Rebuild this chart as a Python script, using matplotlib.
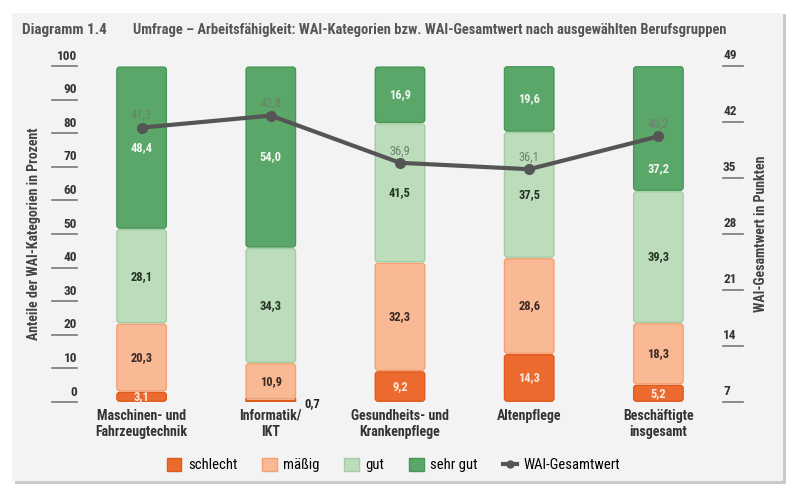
import matplotlib
matplotlib.use("Agg")
import matplotlib.pyplot as plt
from matplotlib import font_manager
from matplotlib.patches import FancyBboxPatch, Rectangle, Patch
from matplotlib.lines import Line2D
import matplotlib.transforms as mtransforms

names = {f.name for f in font_manager.fontManager.ttflist}
family = "Roboto"
for cand in ["Roboto Condensed", "Liberation Sans Narrow", "Open Sans Condensed",
             "Noto Sans Condensed", "Lato"]:
    if cand in names:
        family = cand
        break
plt.rcParams["font.family"] = [family, "DejaVu Sans"]

# data
groups = ["Maschinen- und\nFahrzeugtechnik", "Informatik/\nIKT", "Gesundheits- und\nKrankenpflege",
          "Altenpflege", "Beschäftigte\ninsgesamt"]
categories = ["schlecht", "mäßig", "gut", "sehr gut"]
schlecht = [3.1, 0.7, 9.2, 14.3, 5.2]
maessig = [20.3, 10.9, 32.3, 28.6, 18.3]
gut = [28.1, 34.3, 41.5, 37.5, 39.3]
sehr_gut = [48.4, 54.0, 16.9, 19.6, 37.2]
wai = [41.3, 42.8, 36.9, 36.1, 40.2]
left_ticks = [0, 10, 20, 30, 40, 50, 60, 70, 80, 90, 100]
right_ticks = [7, 14, 21, 28, 35, 42, 49]

fills = ["#ec6a2e", "#fab995", "#bcdcbc", "#5aa769"]
edges = ["#e05a1c", "#f4a070", "#a3cda3", "#489757"]
txt_cols = ["#fbe8dc", "#3a2a22", "#263326", "#eef5ee"]
bg = "#f3f3f3"
grey = "#555555"

fig = plt.figure(figsize=(8, 4.87), dpi=100)
W, H = 800, 487

def fx(px):
    return px / W

def fy(py):
    return 1 - py / H

# panel with shadow
fig.patches.append(Rectangle((fx(15), fy(484)), fx(771), 470 / H, transform=fig.transFigure,
                             facecolor="#c9c9c9", edgecolor="none", zorder=-3))
fig.patches.append(Rectangle((fx(12), fy(481)), fx(771), 468 / H, transform=fig.transFigure,
                             facecolor=bg, edgecolor="none", zorder=-2))

ax = fig.add_axes([fx(77), fy(402), fx(646), 336 / H])
ax.set_facecolor("none")
ax.set_xlim(-0.5, 4.5)
ax.set_ylim(0, 100)
for s in ax.spines.values():
    s.set_visible(False)
ax.set_xticks([])
ax.set_yticks([])

x = list(range(len(groups)))
series = [schlecht, maessig, gut, sehr_gut]
bottom = [0.0] * len(groups)
aspect = (100 / 336) / (5 / 646)
# the "sehr gut" label of the last bar sits lower to clear the WAI label
label_shift = {(3, 4): -12}
for k, vals in enumerate(series):
    bars = ax.bar(x, vals, width=0.395, bottom=bottom, color=fills[k])
    for b in bars:
        b.set_visible(False)
        bb = b.get_bbox()
        p = FancyBboxPatch((bb.x0, bb.y0), bb.width, bb.height,
                           boxstyle="round,pad=-0.006,rounding_size=0.022",
                           mutation_aspect=aspect, facecolor=fills[k],
                           edgecolor=edges[k], linewidth=1.0, zorder=2)
        ax.add_patch(p)
    for i, v in enumerate(vals):
        yc = bottom[i] + v / 2 + label_shift.get((k, i), 0)
        if v >= 2:
            ax.text(x[i], yc, f"{v:.1f}".replace(".", ","), ha="center", va="center",
                    fontsize=9, fontweight="bold", color=txt_cols[k], zorder=4)
        else:
            ax.text(x[i] + 0.26, bottom[i] + 1.5, f"{v:.1f}".replace(".", ","), ha="left",
                    va="top", fontsize=9, fontweight="bold", color="#222222", zorder=4)
    bottom = [b0 + v for b0, v in zip(bottom, vals)]

ax2 = ax.twinx()
ax2.set_ylim(7, 49)
for s in ax2.spines.values():
    s.set_visible(False)
ax2.set_yticks([])
ax2.plot(x, wai, color=grey, linewidth=3, marker="o", markersize=7, zorder=5)
for i, v in enumerate(wai):
    ax2.text(x[i], v + 1.5, f"{v:.1f}".replace(".", ","), ha="center", va="center",
             fontsize=9, color="#6f7f6f", zorder=6)

# ticks: label above a short line
tl = mtransforms.blended_transform_factory(ax.transAxes, ax.transData)
for t in left_ticks:
    ax.plot([-0.039, 0.0], [t, t], transform=tl, color="#777777", lw=1.2, clip_on=False)
    ax.text(0.0, t + 1.0, str(t), transform=tl, ha="right", va="bottom",
            fontsize=9.5, fontweight="bold", color="#333333")
tr = mtransforms.blended_transform_factory(ax2.transAxes, ax2.transData)
for t in right_ticks:
    ax2.plot([1.0, 1.031], [t, t], transform=tr, color="#777777", lw=1.2, clip_on=False)
    ax2.text(1.0, t + 0.45, str(t), transform=tr, ha="left", va="bottom",
             fontsize=9.5, fontweight="bold", color="#333333")

for i, g in enumerate(groups):
    ax.text(x[i], -2.0, g, ha="center", va="top", fontsize=10, fontweight="bold",
            color="#333333", linespacing=1.2)

fig.text(fx(34), fy(234), "Anteile der WAI-Kategorien in Prozent", rotation=90,
         ha="center", va="center", fontsize=10, fontweight="bold", color="#444444")
fig.text(fx(761), fy(234), "WAI-Gesamtwert in Punkten", rotation=90,
         ha="center", va="center", fontsize=10, fontweight="bold", color="#444444")

t1 = fig.text(fx(22), fy(30), "Diagramm 1.4", ha="left", va="center", fontsize=10.5,
              fontweight="bold", color=grey)
t2 = fig.text(fx(133), fy(30),
              "Umfrage – Arbeitsfähigkeit: WAI-Kategorien bzw. WAI-Gesamtwert nach ausgewählten Berufsgruppen",
              ha="left", va="center", fontsize=10.5, fontweight="bold", color=grey)

handles = [Patch(facecolor=fills[k], edgecolor=edges[k], label=categories[k]) for k in range(4)]
handles.append(Line2D([], [], color=grey, lw=3, marker="o", markersize=5, label="WAI-Gesamtwert"))
fig.legend(handles=handles, loc="center", bbox_to_anchor=(0.492, fy(465)), ncol=5,
           frameon=False, fontsize=10.5, handlelength=1.0, handleheight=1.0,
           columnspacing=1.7, handletextpad=0.45)

# fit the title lines to the widths seen in the original
fig.canvas.draw()
r = fig.canvas.get_renderer()
for t, target in [(t1, 88), (t2, 595)]:
    w = t.get_window_extent(r).width
    t.set_fontsize(min(11, t.get_fontsize() * target / w))

fig.savefig("out.png", dpi=100, facecolor="white")
